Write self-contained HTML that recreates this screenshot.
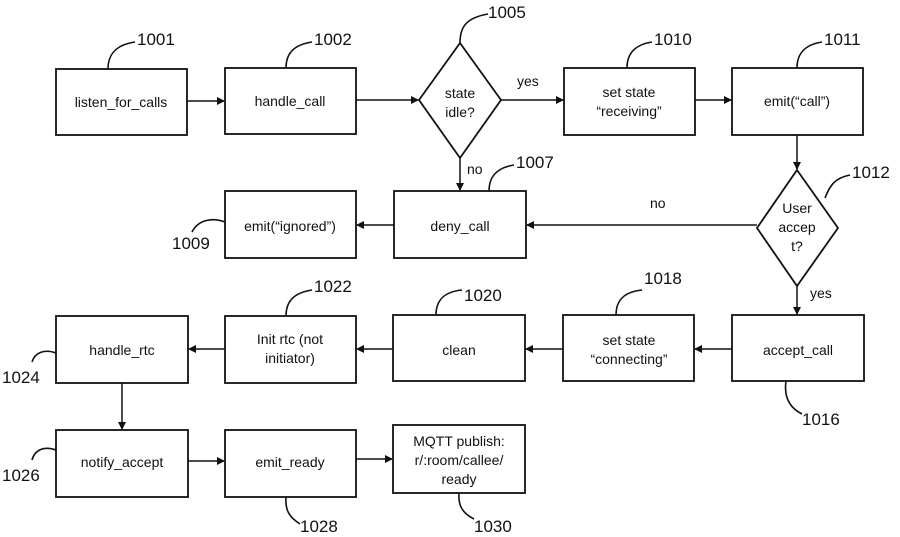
<!DOCTYPE html>
<html><head><meta charset="utf-8"><style>
html,body{margin:0;padding:0;background:#fff;}
svg{display:block;}
text{font-family:"Liberation Sans",Arial,sans-serif;font-size:14px;fill:#111;}
.n{font-size:17px;}
</style></head><body>
<svg width="900" height="537" viewBox="0 0 900 537" xmlns="http://www.w3.org/2000/svg">
<defs><marker id="a" markerWidth="8" markerHeight="8" refX="7" refY="4" orient="auto" markerUnits="userSpaceOnUse"><path d="M0,0 L8,4 L0,8 z" fill="#111"/></marker></defs>
<g fill="none" stroke="#111" stroke-width="1.8">
<rect x="56" y="69" width="131" height="66"/>
<rect x="225" y="68" width="131" height="66"/>
<path d="M460,43 L501,100 L460,158 L419,100 Z"/>
<rect x="564" y="68" width="131" height="67"/>
<rect x="732" y="68" width="131" height="67"/>
<rect x="225" y="191" width="131" height="67"/>
<rect x="394" y="191" width="132" height="67"/>
<path d="M797,170 L838,228 L797,286 L757,228 Z"/>
<rect x="56" y="316" width="132" height="67"/>
<rect x="225" y="316" width="131" height="67"/>
<rect x="393" y="315" width="132" height="66"/>
<rect x="563" y="315" width="131" height="66"/>
<rect x="732" y="315" width="132" height="66"/>
<rect x="56" y="430" width="132" height="67"/>
<rect x="225" y="430" width="131" height="67"/>
<rect x="393" y="425" width="132" height="68"/>
</g>
<g fill="none" stroke="#111" stroke-width="1.5" marker-end="url(#a)">
<line x1="187" y1="101" x2="224" y2="101"/>
<line x1="356" y1="100" x2="418" y2="100"/>
<line x1="501" y1="100" x2="563" y2="100"/>
<line x1="695" y1="100" x2="731" y2="100"/>
<line x1="797" y1="135" x2="797" y2="169"/>
<line x1="460" y1="158" x2="460" y2="190"/>
<line x1="757" y1="225" x2="527" y2="225"/>
<line x1="394" y1="225" x2="357" y2="225"/>
<line x1="797" y1="286" x2="797" y2="314"/>
<line x1="732" y1="349" x2="695" y2="349"/>
<line x1="563" y1="349" x2="526" y2="349"/>
<line x1="393" y1="349" x2="357" y2="349"/>
<line x1="225" y1="349" x2="189" y2="349"/>
<line x1="122" y1="383" x2="122" y2="429"/>
<line x1="188" y1="461" x2="224" y2="461"/>
<line x1="356" y1="459" x2="392" y2="459"/>
</g>
<g fill="none" stroke="#111" stroke-width="1.6">
<path d="M108,69 C108,55 115,45 135,42"/>
<path d="M286,68 C286,55 292,45 312,42"/>
<path d="M460,43 C460,28 465,18 488,14"/>
<path d="M627,68 C627,55 633,45 652,42"/>
<path d="M797,68 C797,55 803,45 822,42"/>
<path d="M489,191 C489,178 495,168 514,165"/>
<path d="M825,198 C830,185 835,178 850,175"/>
<path d="M225,222 C212,217 198,220 192,232"/>
<path d="M286,316 C286,303 292,293 312,290"/>
<path d="M436,315 C436,302 442,292 462,290"/>
<path d="M616,315 C616,302 622,292 642,290"/>
<path d="M786,381 C784,395 788,407 802,414"/>
<path d="M56,353 C45,349 35,352 32,362"/>
<path d="M56,450 C45,446 35,449 32,460"/>
<path d="M286,497 C285,510 289,517 300,524"/>
<path d="M459,493 C458,505 462,513 474,519"/>
</g>
<g text-anchor="middle">
<text x="121" y="107">listen_for_calls</text>
<text x="290" y="106">handle_call</text>
<text x="460" y="98">state</text><text x="460" y="117">idle?</text>
<text x="629" y="97">set state</text><text x="629" y="116">“receiving”</text>
<text x="797" y="106">emit(“call”)</text>
<text x="290" y="231">emit(“ignored”)</text>
<text x="460" y="231">deny_call</text>
<text x="797" y="213">User</text><text x="797" y="232">accep</text><text x="797" y="251">t?</text>
<text x="122" y="355">handle_rtc</text>
<text x="290" y="344">Init rtc (not</text><text x="290" y="363">initiator)</text>
<text x="459" y="355">clean</text>
<text x="629" y="345">set state</text><text x="629" y="364">“connecting”</text>
<text x="798" y="355">accept_call</text>
<text x="122" y="467">notify_accept</text>
<text x="290" y="467">emit_ready</text>
<text x="459" y="446">MQTT publish:</text><text x="459" y="465">r/:room/callee/</text><text x="459" y="484">ready</text>
</g>
<text x="517" y="86">yes</text>
<text x="467" y="174">no</text>
<text x="650" y="208">no</text>
<text x="810" y="298">yes</text>
<g class="n">
<text class="n" x="137" y="45">1001</text>
<text class="n" x="314" y="45">1002</text>
<text class="n" x="488" y="18">1005</text>
<text class="n" x="654" y="45">1010</text>
<text class="n" x="824" y="45">1011</text>
<text class="n" x="516" y="168">1007</text>
<text class="n" x="852" y="178">1012</text>
<text class="n" x="172" y="249">1009</text>
<text class="n" x="314" y="292">1022</text>
<text class="n" x="464" y="301">1020</text>
<text class="n" x="644" y="284">1018</text>
<text class="n" x="802" y="425">1016</text>
<text class="n" x="2" y="383">1024</text>
<text class="n" x="2" y="481">1026</text>
<text class="n" x="300" y="532">1028</text>
<text class="n" x="474" y="532">1030</text>
</g>
</svg>
</body></html>
